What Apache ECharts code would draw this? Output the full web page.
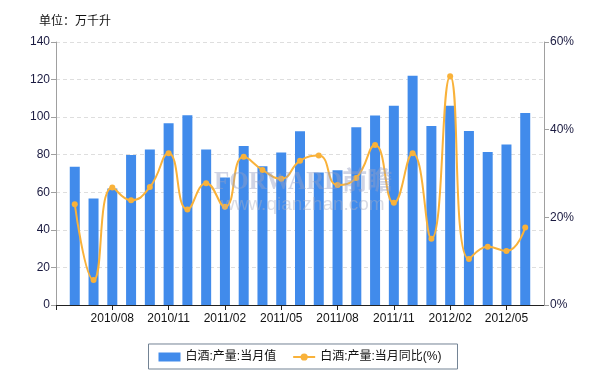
<!DOCTYPE html>
<html><head><meta charset="utf-8">
<script src="https://cdn.jsdelivr.net/npm/echarts@6/dist/echarts.min.js"></script>
<style>html,body{margin:0;padding:0;background:#fff}#c{width:600px;height:380px}</style>
</head><body><div id="c"></div>
<script>
const categories = ['2010/05','2010/06','2010/07','2010/08','2010/09','2010/10','2010/11','2010/12',
  '2011/01','2011/02','2011/03','2011/04','2011/05','2011/06','2011/07','2011/08','2011/09','2011/10','2011/11','2011/12',
  '2012/01','2012/02','2012/03','2012/04','2012/05','2012/06','2012/07'];
const monthly = [null,73.6,56.7,62,79.8,82.8,96.7,101,82.8,67.9,84.6,73.8,81.2,92.5,70.5,71.7,94.6,100.9,106,122,95.3,106,92.6,81.4,85.5,102.2,null];
const yoy = [null,23.0,5.7,26.8,23.9,26.9,34.6,21.8,27.8,22.4,33.8,30.8,28.8,32.9,34.1,27.4,29.0,36.5,23.3,34.6,15.1,52.2,10.5,13.3,12.3,17.7,null];
const leftTicks = [0,20,40,60,80,100,120,140];
const rightTicks = [0,20,40,60];
const seriesNames = ['白酒:产量:当月值','白酒:产量:当月同比(%)'];

const chart = echarts.init(document.getElementById('c'), null, {renderer:'canvas'});
const font = '"Liberation Sans", Arial, "Noto Sans CJK SC", sans-serif';
chart.setOption({
  animation:false,
  textStyle:{fontFamily:font},
  title:{text:'单位：万千升', left:34, top:11, textStyle:{fontSize:12, fontWeight:'normal', color:'#111', fontFamily:font}},
  grid:{left:56, right:56, top:42, bottom:75, containLabel:false},
  legend:{
    bottom:11, left:'center', itemWidth:22, itemHeight:9, itemGap:16,
    borderColor:'#738394', borderWidth:1, padding:[7,16,6,10], borderRadius:0,
    textStyle:{fontSize:12, color:'#111', fontFamily:font},
    data:[{name:seriesNames[0], icon:'rect'},{name:seriesNames[1]}]
  },
  xAxis:{
    type:'category', data:categories, boundaryGap:false,
    axisLine:{lineStyle:{color:'#222'}},
    axisTick:{interval:(i)=>i%3===0, length:5, lineStyle:{color:'#222'}},
    axisLabel:{interval:(i)=>i%3===0 && i>0 && i<26, color:'#111', fontSize:12, margin:8, fontFamily:font},
    splitLine:{show:false}
  },
  yAxis:[{
    type:'value', min:leftTicks[0], max:leftTicks[leftTicks.length-1], interval:20,
    axisLine:{show:true, lineStyle:{color:'#a0a0a0'}},
    axisTick:{show:true, length:5, lineStyle:{color:'#a0a0a0'}},
    axisLabel:{color:'#1a1a40', fontSize:12, margin:6, fontFamily:font},
    splitLine:{show:true, lineStyle:{color:'#dedede', type:[4,3]}}
  },{
    type:'value', min:rightTicks[0], max:rightTicks[rightTicks.length-1], interval:20,
    axisLine:{show:true, lineStyle:{color:'#a0a0a0'}},
    axisTick:{show:true, length:5, lineStyle:{color:'#a0a0a0'}},
    axisLabel:{formatter:'{value}%', color:'#1a1a40', fontSize:12, margin:6, fontFamily:font},
    splitLine:{show:false}
  }],
  graphic:[
    {type:'text', left:214, top:170, z:100, style:{text:'FORWARD前瞻', fontSize:25, fontWeight:'bold', fontFamily:'"Liberation Serif", "Noto Sans CJK SC", serif', fill:'rgba(150,160,195,0.45)'}},
    {type:'text', left:221, top:195, z:100, style:{text:'www.qianzhan.com', fontSize:19, fontFamily:font, fill:'rgba(170,175,195,0.45)'}}
  ],
  series:[{
    name:seriesNames[0], type:'bar', data:monthly, barWidth:10,
    itemStyle:{color:'#418BEB'}
  },{
    name:seriesNames[1], type:'line', yAxisIndex:1, data:yoy, smooth:0.5,
    symbol:'circle', symbolSize:6, lineStyle:{color:'#F9B23A', width:2},
    itemStyle:{color:'#F9B23A'}
  }]
});
</script></body></html>
